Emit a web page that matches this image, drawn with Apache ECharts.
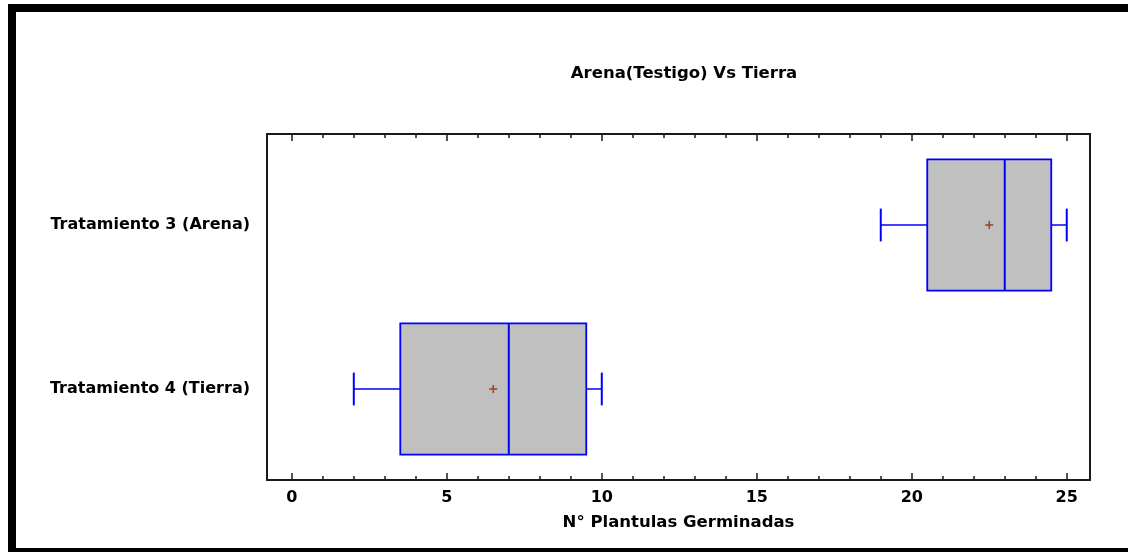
<!DOCTYPE html>
<html>
<head>
<meta charset="utf-8">
<script src="https://cdn.jsdelivr.net/npm/echarts@6/dist/echarts.min.js"></script>
<style>
html,body{margin:0;padding:0;background:#fff;}
#c{width:1128px;height:552px;}
</style>
</head>
<body>
<div id="c"></div>
<script>
const titleText = 'Arena(Testigo) Vs Tierra';
const xAxisName = 'N\u00b0 Plantulas Germinadas';
const categories = ['Tratamiento 4 (Tierra)', 'Tratamiento 3 (Arena)'];
const catPos = [1, 2];
const minVals = [2, 19];
const q1Vals = [3.5, 20.5];
const medianVals = [7, 23];
const q3Vals = [9.5, 24.5];
const maxVals = [10, 25];
const meanVals = [6.5, 22.5];
const majorTicks = [0, 5, 10, 15, 20, 25];
const minorTicks = [0,1,2,3,4,5,6,7,8,9,10,11,12,13,14,15,16,17,18,19,20,21,22,23,24,25];

const FONT = "'DejaVu Sans', 'Liberation Sans', Arial, sans-serif";
const XMIN = -0.8, XMAX = 25.75;
const YMIN = 0.445, YMAX = 2.555;
const lineCol = '#1a1a1a';

const chart = echarts.init(document.getElementById('c'), null, {renderer: 'canvas'});

const data = categories.map((c, i) => [catPos[i], minVals[i], q1Vals[i], medianVals[i], q3Vals[i], maxVals[i], meanVals[i]]);

function renderItem(params, api) {
  const y = api.value(0);
  const mn = api.value(1), q1 = api.value(2), md = api.value(3), q3 = api.value(4), mx = api.value(5), mean = api.value(6);
  const hb = 0.4, hc = 0.1;
  const tl = api.coord([q1, y + hb]);
  const br = api.coord([q3, y - hb]);
  const blue = '#0000ff';
  const c = (x, yy) => api.coord([x, yy]);
  const mp = c(mean, y);
  const ps = 4;
  return {
    type: 'group',
    children: [
      {type: 'line', shape: {x1: c(mn, y)[0], y1: c(mn, y)[1], x2: tl[0], y2: c(q1, y)[1]}, style: {stroke: blue, lineWidth: 1.5}},
      {type: 'line', shape: {x1: br[0], y1: c(q3, y)[1], x2: c(mx, y)[0], y2: c(mx, y)[1]}, style: {stroke: blue, lineWidth: 1.5}},
      {type: 'line', shape: {x1: c(mn, y + hc)[0], y1: c(mn, y + hc)[1], x2: c(mn, y - hc)[0], y2: c(mn, y - hc)[1]}, style: {stroke: blue, lineWidth: 2}},
      {type: 'line', shape: {x1: c(mx, y + hc)[0], y1: c(mx, y + hc)[1], x2: c(mx, y - hc)[0], y2: c(mx, y - hc)[1]}, style: {stroke: blue, lineWidth: 2}},
      {type: 'rect', shape: {x: tl[0], y: tl[1], width: br[0] - tl[0], height: br[1] - tl[1]}, style: {fill: '#c0c0c0', stroke: blue, lineWidth: 1.8}},
      {type: 'line', shape: {x1: c(md, y + hb)[0], y1: c(md, y + hb)[1], x2: c(md, y - hb)[0], y2: c(md, y - hb)[1]}, style: {stroke: blue, lineWidth: 2}},
      {type: 'line', shape: {x1: mp[0] - ps, y1: mp[1], x2: mp[0] + ps, y2: mp[1]}, style: {stroke: '#9a4a20', lineWidth: 1.6}},
      {type: 'line', shape: {x1: mp[0], y1: mp[1] - ps, x2: mp[0], y2: mp[1] + ps}, style: {stroke: '#9a4a20', lineWidth: 1.6}}
    ]
  };
}

const baseX = {type: 'value', min: XMIN, max: XMAX, splitLine: {show: false}, gridIndex: 0};
const txt = {fontFamily: FONT, fontSize: 16, fontWeight: 'bold', color: '#000'};
const txtBig = {fontFamily: FONT, fontSize: 16.5, fontWeight: 'bold', color: '#000'};

const option = {
  animation: false,
  backgroundColor: '#fff',
  textStyle: {fontFamily: FONT},
  title: {
    text: titleText,
    left: 679, top: 60, textAlign: 'center',
    textStyle: txtBig
  },
  grid: {left: 267, right: 38, top: 134, bottom: 72, containLabel: false},
  xAxis: [
    Object.assign({}, baseX, {
      position: 'bottom',
      axisLine: {show: true, onZero: false, lineStyle: {color: lineCol, width: 2}},
      axisTick: {show: true, inside: true, length: 7, customValues: majorTicks, lineStyle: {color: lineCol, width: 1.5}},
      axisLabel: Object.assign({show: true, customValues: majorTicks, margin: 10}, txt),
      name: xAxisName, nameLocation: 'middle', nameGap: 34,
      nameTextStyle: txtBig
    }),
    Object.assign({}, baseX, {
      position: 'bottom',
      axisLine: {show: false, onZero: false},
      axisTick: {show: true, inside: true, length: 4, customValues: minorTicks, lineStyle: {color: lineCol, width: 1.5}},
      axisLabel: {show: false}
    }),
    Object.assign({}, baseX, {
      position: 'top',
      axisLine: {show: true, onZero: false, lineStyle: {color: lineCol, width: 2}},
      axisTick: {show: true, inside: true, length: 7, customValues: majorTicks, lineStyle: {color: lineCol, width: 1.5}},
      axisLabel: {show: false}
    }),
    Object.assign({}, baseX, {
      position: 'top',
      axisLine: {show: false, onZero: false},
      axisTick: {show: true, inside: true, length: 4, customValues: minorTicks, lineStyle: {color: lineCol, width: 1.5}},
      axisLabel: {show: false}
    })
  ],
  yAxis: [
    {
      type: 'value', min: YMIN, max: YMAX, position: 'left', gridIndex: 0,
      splitLine: {show: false},
      axisLine: {show: true, onZero: false, lineStyle: {color: lineCol, width: 2}},
      axisTick: {show: false},
      axisLabel: Object.assign({
        show: true, customValues: catPos, margin: 17,
        formatter: v => categories[catPos.indexOf(Math.round(v))]
      }, txt)
    },
    {
      type: 'value', min: YMIN, max: YMAX, position: 'right', gridIndex: 0,
      splitLine: {show: false},
      axisLine: {show: true, onZero: false, lineStyle: {color: lineCol, width: 2}},
      axisTick: {show: false},
      axisLabel: {show: false}
    }
  ],
  series: [{
    type: 'custom',
    xAxisIndex: 0, yAxisIndex: 0,
    renderItem: renderItem,
    encode: {x: [1, 2, 3, 4, 5, 6], y: 0},
    data: data,
    clip: false
  }],
  graphic: [
    {type: 'rect', shape: {x: 8, y: 4, width: 1120, height: 8}, style: {fill: '#000'}, silent: true},
    {type: 'rect', shape: {x: 8, y: 4, width: 8, height: 548}, style: {fill: '#000'}, silent: true},
    {type: 'rect', shape: {x: 8, y: 548, width: 1120, height: 4}, style: {fill: '#000'}, silent: true}
  ]
};

chart.setOption(option);
</script>
</body>
</html>
